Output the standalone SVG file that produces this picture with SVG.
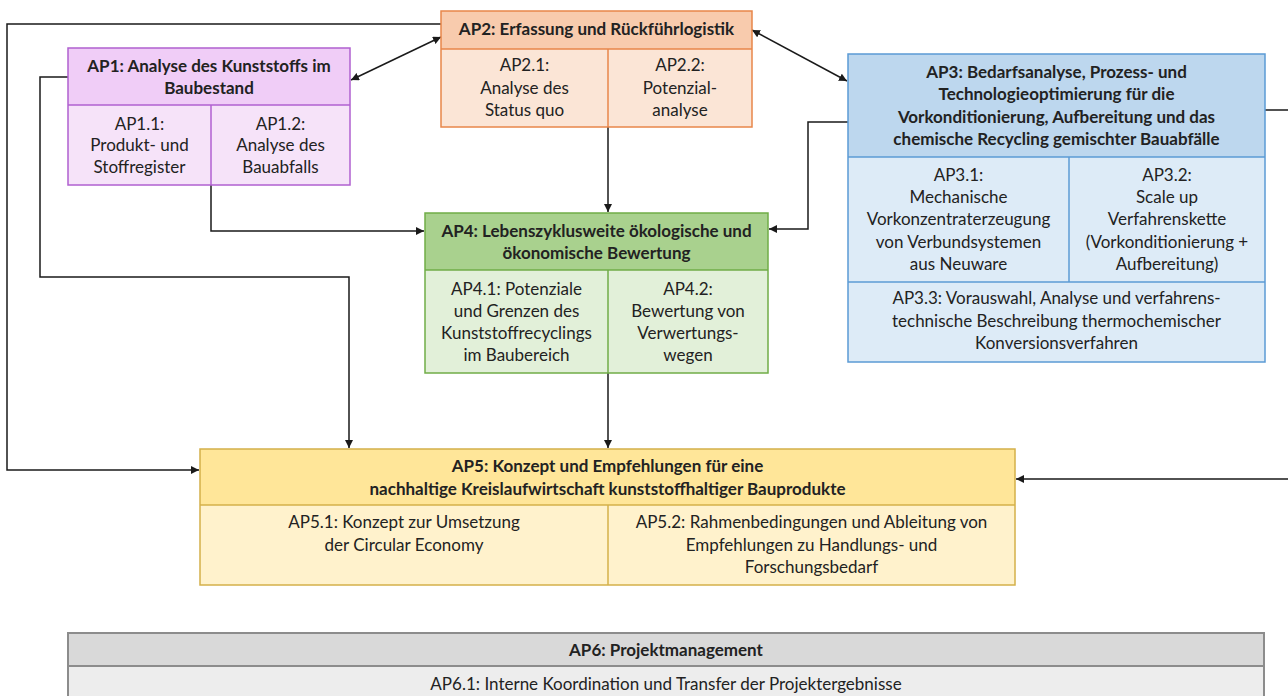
<svg xmlns="http://www.w3.org/2000/svg" width="1288" height="696" viewBox="0 0 1288 696">
<style>
text{font-family:Lato,"Open Sans","Liberation Sans",sans-serif;font-size:17px;fill:#222;text-anchor:middle}
.b{font-weight:bold}
.cn{fill:none;stroke:#1a1a1a;stroke-width:1.5}
.p1{stroke:#b060d0;stroke-width:1.5}.p1h{fill:#f0cdf7}.p1s{fill:#f6e3f9}
.p2{stroke:#e8864a;stroke-width:1.5}.p2h{fill:#f8cbad}.p2s{fill:#fbe5d6}
.p3{stroke:#5b9bd5;stroke-width:1.5}.p3h{fill:#bdd7ee}.p3s{fill:#ddebf7}
.p4{stroke:#70ad47;stroke-width:1.5}.p4h{fill:#a9d18e}.p4s{fill:#e2f0d9}
.p5{stroke:#d4b04a;stroke-width:1.5}.p5h{fill:#ffe699}.p5s{fill:#fff2cc}
.p6{stroke:#8c8c8c;stroke-width:2}.p6h{fill:#d9d9d9}.p6s{fill:#ededed}
</style>
<defs>
<marker id="ah" viewBox="0 0 10 10" refX="10" refY="5" markerWidth="8" markerHeight="8" markerUnits="userSpaceOnUse" orient="auto-start-reverse">
<path d="M0,0 L10,5 L0,10 z" fill="#1a1a1a"/>
</marker>
</defs>

<g id="connectors">
<polyline class="cn" points="441,24 7,24 7,470 199,470" marker-end="url(#ah)"/>
<line class="cn" x1="351" y1="80" x2="441" y2="37" marker-start="url(#ah)" marker-end="url(#ah)"/>
<line class="cn" x1="752" y1="30" x2="847" y2="81" marker-start="url(#ah)" marker-end="url(#ah)"/>
<polyline class="cn" points="68,77 40,77 40,277 349,277 349,448" marker-end="url(#ah)"/>
<polyline class="cn" points="211,185 211,231 424,231" marker-end="url(#ah)"/>
<line class="cn" x1="608" y1="127" x2="608" y2="212" marker-end="url(#ah)"/>
<polyline class="cn" points="848,122 808,122 808,229 769,229" marker-end="url(#ah)"/>
<line class="cn" x1="608" y1="373" x2="608" y2="448" marker-end="url(#ah)"/>
<polyline class="cn" points="1265,110 1296,110 1296,479 1016,479" marker-end="url(#ah)"/>
</g>

<g id="AP1">
<rect class="p1h" x="68" y="48" width="282" height="57"/>
<rect class="p1s" x="68" y="105" width="282" height="80"/>
<rect class="p1" fill="none" x="68" y="48" width="282" height="137"/>
<line class="p1" x1="68" y1="105" x2="350" y2="105"/>
<line class="p1" x1="211" y1="105" x2="211" y2="185"/>
<text class="b" x="209" y="72">AP1: Analyse des Kunststoffs im</text>
<text class="b" x="209" y="93.5">Baubestand</text>
<text x="139.5" y="129.5">AP1.1:</text>
<text x="139.5" y="151">Produkt- und</text>
<text x="139.5" y="172.5">Stoffregister</text>
<text x="280.5" y="129.5">AP1.2:</text>
<text x="280.5" y="151">Analyse des</text>
<text x="280.5" y="172.5">Bauabfalls</text>
</g>

<g id="AP2">
<rect class="p2h" x="441" y="11" width="311" height="38"/>
<rect class="p2s" x="441" y="49" width="311" height="78"/>
<rect class="p2" fill="none" x="441" y="11" width="311" height="116"/>
<line class="p2" x1="441" y1="49" x2="752" y2="49"/>
<line class="p2" x1="608" y1="49" x2="608" y2="127"/>
<text class="b" x="596.5" y="35">AP2: Erfassung und Rückführlogistik</text>
<text x="524.5" y="71">AP2.1:</text>
<text x="524.5" y="94">Analyse des</text>
<text x="524.5" y="116">Status quo</text>
<text x="680" y="71">AP2.2:</text>
<text x="680" y="94">Potenzial-</text>
<text x="680" y="116">analyse</text>
</g>

<g id="AP3">
<rect class="p3h" x="848" y="54" width="417" height="103"/>
<rect class="p3s" x="848" y="157" width="417" height="205"/>
<rect class="p3" fill="none" x="848" y="54" width="417" height="308"/>
<line class="p3" x1="848" y1="157" x2="1265" y2="157"/>
<line class="p3" x1="848" y1="282" x2="1265" y2="282"/>
<line class="p3" x1="1069" y1="157" x2="1069" y2="282"/>
<text class="b" x="1056.5" y="77.5">AP3: Bedarfsanalyse, Prozess- und</text>
<text class="b" x="1056.5" y="99.5">Technologieoptimierung für die</text>
<text class="b" x="1056.5" y="122.5">Vorkonditionierung, Aufbereitung und das</text>
<text class="b" x="1056.5" y="144.5">chemische Recycling gemischter Bauabfälle</text>
<text x="958.5" y="181">AP3.1:</text>
<text x="958.5" y="203">Mechanische</text>
<text x="958.5" y="225">Vorkonzentraterzeugung</text>
<text x="958.5" y="247.5">von Verbundsystemen</text>
<text x="958.5" y="270">aus Neuware</text>
<text x="1167" y="181">AP3.2:</text>
<text x="1167" y="203">Scale up</text>
<text x="1167" y="225">Verfahrenskette</text>
<text x="1167" y="247.5">(Vorkonditionierung +</text>
<text x="1167" y="270">Aufbereitung)</text>
<text x="1056.5" y="304">AP3.3: Vorauswahl, Analyse und verfahrens-</text>
<text x="1056.5" y="326.5">technische Beschreibung thermochemischer</text>
<text x="1056.5" y="349">Konversionsverfahren</text>
</g>

<g id="AP4">
<rect class="p4h" x="425" y="213" width="343" height="57"/>
<rect class="p4s" x="425" y="270" width="343" height="103"/>
<rect class="p4" fill="none" x="425" y="213" width="343" height="160"/>
<line class="p4" x1="425" y1="270" x2="768" y2="270"/>
<line class="p4" x1="608" y1="270" x2="608" y2="373"/>
<text class="b" x="596.5" y="236.5">AP4: Lebenszyklusweite ökologische und</text>
<text class="b" x="596.5" y="259">ökonomische Bewertung</text>
<text x="516.5" y="295">AP4.1: Potenziale</text>
<text x="516.5" y="317">und Grenzen des</text>
<text x="516.5" y="339">Kunststoffrecyclings</text>
<text x="516.5" y="361">im Baubereich</text>
<text x="688" y="295">AP4.2:</text>
<text x="688" y="317">Bewertung von</text>
<text x="688" y="339">Verwertungs-</text>
<text x="688" y="361">wegen</text>
</g>

<g id="AP5">
<rect class="p5h" x="200" y="449" width="815" height="56"/>
<rect class="p5s" x="200" y="505" width="815" height="80"/>
<rect class="p5" fill="none" x="200" y="449" width="815" height="136"/>
<line class="p5" x1="200" y1="505" x2="1015" y2="505"/>
<line class="p5" x1="608" y1="505" x2="608" y2="585"/>
<text class="b" x="607.5" y="472">AP5: Konzept und Empfehlungen für eine</text>
<text class="b" x="607.5" y="495">nachhaltige Kreislaufwirtschaft kunststoffhaltiger Bauprodukte</text>
<text x="404" y="528">AP5.1: Konzept zur Umsetzung</text>
<text x="404" y="551">der Circular Economy</text>
<text x="811.5" y="528">AP5.2: Rahmenbedingungen und Ableitung von</text>
<text x="811.5" y="551">Empfehlungen zu Handlungs- und</text>
<text x="811.5" y="573">Forschungsbedarf</text>
</g>

<g id="AP6">
<rect class="p6h" x="68" y="633" width="1196" height="33"/>
<rect class="p6s" x="68" y="666" width="1196" height="40"/>
<rect class="p6" fill="none" x="68" y="633" width="1196" height="73"/>
<line class="p6" x1="68" y1="666" x2="1264" y2="666"/>
<text class="b" x="666" y="656">AP6: Projektmanagement</text>
<text x="666" y="690">AP6.1: Interne Koordination und Transfer der Projektergebnisse</text>
</g>
</svg>
